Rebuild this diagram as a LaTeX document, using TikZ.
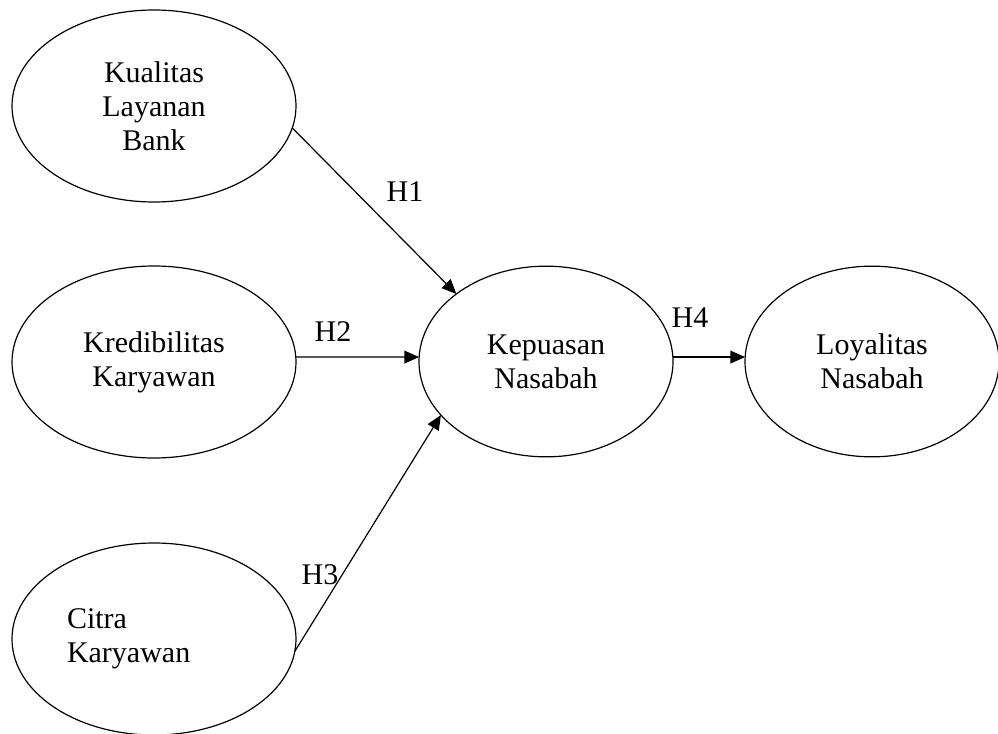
\documentclass[tikz,border=0pt]{standalone}
\usepackage{fontspec}
\setmainfont{Liberation Serif}
\usetikzlibrary{shapes.geometric,arrows.meta}

\tikzset{
  var/.style={draw,ellipse,line width=0.9pt,inner sep=0pt,outer sep=0pt,
    minimum width=213pt,minimum height=144pt,align=center},
  hyp/.style={inner sep=0pt},
  path/.style={->,line width=0.9pt},
}

\begin{document}
\begin{tikzpicture}[x=0.75pt,y=-0.75pt,>={Triangle[length=11pt,width=9.5pt]},
    font=\fontsize{22.5}{25.5}\selectfont]
    \useasboundingbox (0,0) rectangle (998,734);

    \node[var] (kualitas) at (154,106) {Kualitas\\Layanan\\Bank};
    \node[var] (kredibilitas) at (154,362) {Kredibilitas\\Karyawan};
    \node[var,align=left,text width=130.5pt] (citra) at (154,639) {Citra\\Karyawan};
    \node[var,minimum width=190.5pt,minimum height=143pt] (kepuasan) at (546,361.5) {Kepuasan\\Nasabah};
    \node[var,minimum width=190.5pt,minimum height=143pt] (loyalitas) at (872,361.5) {Loyalitas\\Nasabah};

    \node[hyp] (h1) at (405,192) {H1};
    \node[hyp] (h2) at (333,332) {H2};
    \node[hyp] (h3) at (320,575) {H3};
    \node[hyp] (h4) at (690,318) {H4};

    \draw[path] (kualitas.-9) -- (kepuasan.143);
    \draw[path] (kredibilitas.2) -- (kepuasan.178);
    \draw[path] (citra.-5.6) -- (kepuasan.207);
    \draw[path] (kepuasan.2) -- (loyalitas.178);

\end{tikzpicture}
\end{document}
